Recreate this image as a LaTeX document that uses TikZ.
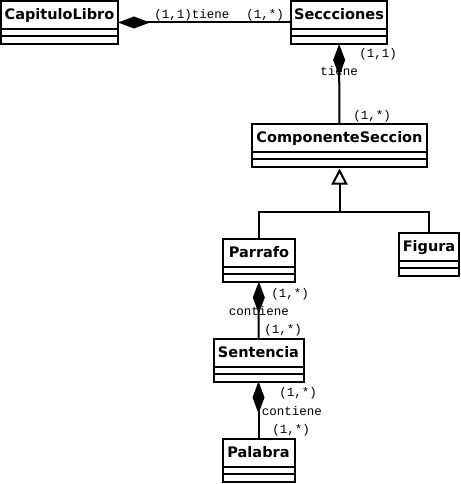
\documentclass[tikz,border=0pt]{standalone}
\usepackage{fontspec}
\newfontfamily\clasefont{DejaVu Sans}
\newfontfamily\rolfont{Liberation Mono}
\usetikzlibrary{arrows.meta}

\begin{document}
\begin{tikzpicture}[x=1pt, y=-1pt, line width=2pt,
    clase/.style={draw, outer sep=0pt, inner sep=0pt, minimum height=43pt,
      text height=19pt, text depth=24pt,
      font=\clasefont\bfseries\fontsize{14.5}{16}\selectfont},
    rol/.style={inner sep=0pt, font=\rolfont\fontsize{12.5}{14}\selectfont},
    compos/.style={{Diamond[length=32pt,width=12pt]}-},
    herencia/.style={-{Triangle[open,length=16pt,width=16pt]}, shorten >=2pt}]
  \useasboundingbox (0,0) rectangle (460,484);

  % clases
  \node[clase, minimum width=117pt] (cap)  at (59.5,22.5) {CapituloLibro};
  \node[clase, minimum width=96pt]  (sec)  at (339,22.5)  {Seccciones};
  \node[clase, minimum width=175pt] (comp) at (339.5,145) {ComponenteSeccion};
  \node[clase, minimum width=72pt]  (par)  at (259,260)   {Parrafo};
  \node[clase, minimum width=60pt]  (fig)  at (429,254)   {Figura};
  \node[clase, minimum width=90pt]  (sen)  at (258.5,360) {Sentencia};
  \node[clase, minimum width=72pt]  (pal)  at (258.5,460) {Palabra};
  \foreach \c in {cap,sec,comp,par,fig,sen,pal}
    \draw ([yshift=15pt]\c.south west) -- ([yshift=15pt]\c.south east)
          ([yshift=7.5pt]\c.south west) -- ([yshift=7.5pt]\c.south east);

  % roles
  \node[rol] (r1)  at (192,15)  {(1,1)tiene};
  \node[rol] (r2)  at (265,15)  {(1,*)};
  \node[rol] (r3)  at (378,54)  {(1,1)};
  \node[rol] (r4)  at (339,71)  {tiene};
  \node[rol] (r5)  at (372,116) {(1,*)};
  \node[rol] (r6)  at (290,294) {(1,*)};
  \node[rol] (r7)  at (259,311) {contiene};
  \node[rol] (r8)  at (283,330) {(1,*)};
  \node[rol] (r9)  at (298,393) {(1,*)};
  \node[rol] (r10) at (292,411) {contiene};
  \node[rol] (r11) at (291,430) {(1,*)};

  % relaciones
  \coordinate (bus) at (339.5,212);
  \draw[compos] (cap) -- (sec);
  \draw[compos] (sec) -- (comp);
  \draw[herencia] (bus) -- (comp);
  \draw (par.north) |- (bus) -| (fig.north);
  \draw[compos] (par) -- (sen);
  \draw[compos] (sen) -- (pal);
\end{tikzpicture}
\end{document}
